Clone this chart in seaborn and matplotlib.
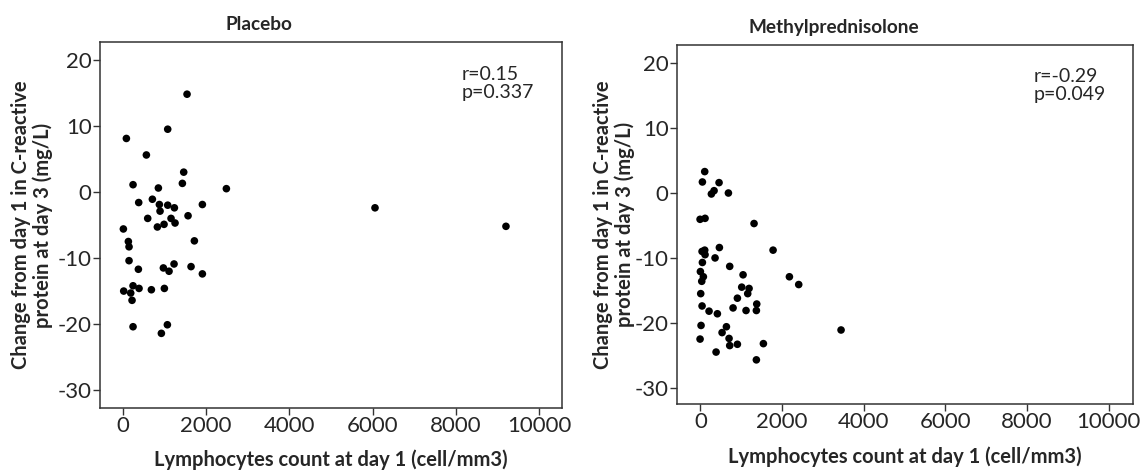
import pandas as pd
import numpy as np
import matplotlib
matplotlib.use("Agg")
import matplotlib.pyplot as plt
import seaborn as sns

# ---------------------------------------------------------
# Data
# ---------------------------------------------------------
placebo_lymph = [1544, 1080, 88, 568, 1464, 248, 856, 1432, 2488, 384,
                 712, 880, 1080, 1240, 1912, 896, 600, 1160, 1256, 992,
                 832, 1568, 16, 136, 152, 1720, 152, 376, 976, 1112,
                 1232, 1640, 1912, 24, 192, 248, 392, 224, 688, 1000,
                 248, 1072, 928, 6055, 9198]
placebo_crp = [14.8, 9.5, 8.1, 5.6, 3.0, 1.1, 0.6, 1.3, 0.5, -1.6,
               -1.1, -1.9, -2.0, -2.4, -1.9, -2.9, -4.0, -4.0, -4.7, -4.9,
               -5.3, -3.6, -5.6, -7.5, -8.3, -7.4, -10.4, -11.7, -11.5, -12.0,
               -10.9, -11.3, -12.4, -15.0, -15.3, -14.2, -14.6, -16.4, -14.8, -14.6,
               -20.4, -20.1, -21.4, -2.4, -5.2]

mp_lymph = [106, 49, 457, 269, 335, 686, -8, 114, 1314, 41,
            106, 114, 465, 1780, 359, 49, 718, 0, 73, 33,
            1045, 2180, 2408, 1012, 1192, 1159, 8, 906, 41, 212,
            416, 800, 1118, 1380, 1371, 16, 637, 531, -8, 702,
            718, 906, 1543, 384, 1371, 3445]
mp_crp = [3.3, 1.7, 1.6, -0.15, 0.36, 0.0, -4.05, -3.9, -4.7, -9.0,
          -8.8, -9.5, -8.4, -8.8, -10.0, -10.7, -11.3, -12.1, -12.9, -13.6,
          -12.6, -12.9, -14.1, -14.5, -14.7, -15.5, -15.5, -16.2, -17.4, -18.2,
          -18.6, -17.7, -18.1, -17.1, -18.1, -20.4, -20.6, -21.5, -22.5, -22.4,
          -23.5, -23.3, -23.2, -24.5, -25.7, -21.1]

panel_titles = ["Placebo", "Methylprednisolone"]
panel_stats = ["r=0.15\np=0.337", "r=-0.29\np=0.049"]
x_ticks = [0, 2000, 4000, 6000, 8000, 10000]
y_ticks = [-30, -20, -10, 0, 10, 20]

X_LABEL = "Lymphocytes count at day 1 (cell/mm3)"
Y_LABEL = "Change from day 1 in C-reactive\nprotein at day 3 (mg/L)"

df = pd.concat([
    pd.DataFrame({"group": panel_titles[0], "lymph": placebo_lymph, "crp": placebo_crp}),
    pd.DataFrame({"group": panel_titles[1], "lymph": mp_lymph, "crp": mp_crp}),
])

# ---------------------------------------------------------
# Style
# ---------------------------------------------------------
sns.set_style("white")
plt.rcParams["font.family"] = ["Lato", "DejaVu Sans"]
plt.rcParams["axes.unicode_minus"] = False

fig = plt.figure(figsize=(11.4, 4.7), dpi=100)
ax_pos = [
    [100 / 1140, 62 / 470, 462 / 1140, 366 / 470],
    [677 / 1140, 66 / 470, 456 / 1140, 359 / 470],
]
xlims = [(-545, 10543), (-573, 10595)]
ylims = [(-32.7, 22.7), (-32.5, 22.8)]
ylabel_x = [-0.147, -0.138]
xlabel_y = [-0.112, -0.117]

for i, name in enumerate(panel_titles):
    ax = fig.add_axes(ax_pos[i])
    sub = df[df["group"] == name]
    sns.scatterplot(data=sub, x="lymph", y="crp", color="black", s=30,
                    edgecolor="none", ax=ax, legend=False)
    ax.set_xlim(*xlims[i])
    ax.set_ylim(*ylims[i])
    ax.set_xticks(x_ticks)
    ax.set_yticks(y_ticks)
    ax.tick_params(axis="both", direction="out", length=5, width=1,
                   color="#333333", labelsize=16, pad=1,
                   bottom=True, left=True)
    for sp in ax.spines.values():
        sp.set_color("#333333")
        sp.set_linewidth(1.1)
    ax.set_xlabel(X_LABEL, fontsize=14.5, fontweight="bold", va="top")
    ax.xaxis.set_label_coords(0.5, xlabel_y[i])
    ax.set_ylabel(Y_LABEL, fontsize=14.5, fontweight="bold", va="center",
                  linespacing=1.05)
    ax.yaxis.set_label_coords(ylabel_x[i], 0.5)
    ax.set_title(name, fontsize=13.7, fontweight="bold", x=0.343,
                 y=1 + 18 / 366, va="center", pad=0)
    ax.text(0.783, 0.935, panel_stats[i], transform=ax.transAxes,
            fontsize=14, va="top", ha="left", linespacing=1.08)

plt.savefig("out.png", dpi=100)
